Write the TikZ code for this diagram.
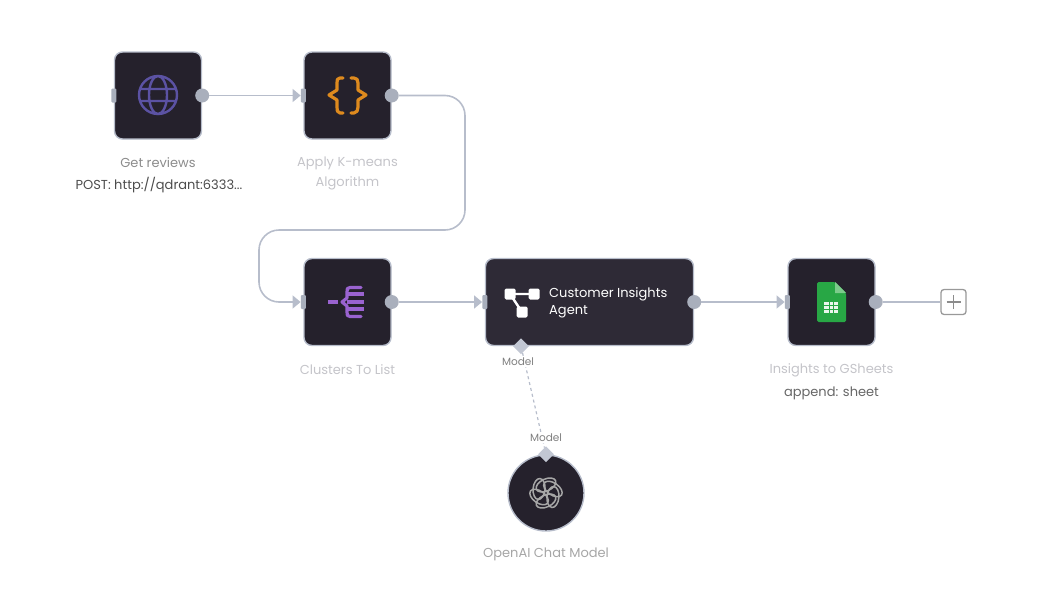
\documentclass[tikz,border=0pt]{standalone}
\usepackage{fontspec}
\setmainfont{Poppins}
\usetikzlibrary{arrows.meta,shapes.geometric}
\definecolor{boxdark}{HTML}{25212C}
\definecolor{boxagent}{HTML}{2E2A36}
\definecolor{wire}{HTML}{B7BDCB}
\definecolor{portgrey}{HTML}{A9AFBC}
\definecolor{fainttext}{HTML}{C4C4C9}
\definecolor{globeblue}{HTML}{5B52A3}
\definecolor{braceorange}{HTML}{DE8A1E}
\definecolor{listpurple}{HTML}{9A63D0}
\definecolor{sheetgreen}{HTML}{28A745}
\definecolor{sheetfold}{HTML}{7CCB8B}
\tikzset{
    nodebox/.style={draw=wire, line width=1.4pt, fill=boxdark, rounded corners=8pt, inner sep=0pt, minimum width=87pt, minimum height=87pt},
    outport/.style={circle, fill=portgrey, inner sep=0pt, minimum size=14pt},
    inport/.style={rectangle, rounded corners=1pt, fill=portgrey, inner sep=0pt, minimum width=5pt, minimum height=14pt},
    modelport/.style={diamond, fill=wire!85!white, inner sep=0pt, minimum size=16pt},
    wireline/.style={draw=wire, line width=1.6pt},
    arrowwire/.style={wireline, -{Triangle[length=8pt,width=13pt]}},
    nodelabel/.style={font=\fontsize{13}{17}\selectfont, align=center, inner sep=0pt},
    modellabel/.style={font=\fontsize{10.5}{12}\selectfont, text=black!50, fill=white, inner sep=1pt},
    iconline/.style={line width=3.2pt, line cap=round, line join=round}
}
\begin{document}
\begin{tikzpicture}[x=1pt, y=-1pt]
    \useasboundingbox (0,0) rectangle (1050,600);

    % boxes
    \node[nodebox] (getreviews) at (158,95.5) {};
    \node[nodebox] (kmeans) at (347.5,95.5) {};
    \node[nodebox] (clusters) at (347.5,302) {};
    \node[nodebox, fill=boxagent, minimum width=208pt] (agent) at (589.5,302) {};
    \node[nodebox] (sheets) at (831.5,302) {};
    \node[circle, draw=wire, line width=1.4pt, fill=boxdark, inner sep=0pt, minimum size=76pt] (openai) at (546,493) {};
    \node[draw=black!40, line width=1.3pt, rounded corners=3pt, fill=white, minimum size=25pt, inner sep=0pt] (plus) at (953.5,302) {};
    \draw[black!45, line width=1.6pt] (plus.center) +(-7,0) -- +(7,0) (plus.center) +(0,-7) -- +(0,7);

    % ports
    \foreach \n in {getreviews,kmeans,clusters,agent,sheets}
        {
            \node[inport] (\n-in) at (\n.west) {};
            \node[outport] (\n-out) at (\n.east) {};
        }
    \node[modelport] (agent-model) at (agent.south) [xshift=-68.5pt] {};
    \node[modelport] (openai-model) at (openai.north) {};
    \coordinate (bendA) at (465,230);
    \coordinate (bendB) at (259,230);

    % connectors
    \draw[arrowwire] (getreviews-out) -- (kmeans-in);
    \draw[arrowwire, rounded corners=20pt] (kmeans-out) -| (bendA) -- (bendB) |- (clusters-in);
    \draw[arrowwire] (clusters-out) -- (agent-in);
    \draw[arrowwire] (agent-out) -- (sheets-in);
    \draw[wireline] (sheets-out) -- (plus);
    \draw[wire, line width=1.2pt, dashed] (agent-model) -- (openai-model);

    % labels
    \node[modellabel] (agent-tag) at (518,362) {Model};
    \node[modellabel] (openai-tag) at (546,438) {Model};
    \node[nodelabel, text=black!45] (getreviews-name) at (158,163) {Get reviews};
    \node[nodelabel, text=black!70] (getreviews-sub) at (159,185) {POST: http://qdrant:6333...};
    \node[nodelabel, text=fainttext] (kmeans-name) at (347.5,173.5) {Apply K-means\\[3pt]Algorithm};
    \node[nodelabel, text=fainttext] (clusters-name) at (347.5,370) {Clusters To List};
    \node[nodelabel, text=fainttext] (sheets-name) at (831.5,370) {Insights to GSheets};
    \node[nodelabel, text=black!60] (sheets-sub) at (831.5,393) {append: sheet};
    \node[nodelabel, text=black!35] (openai-name) at (546,554) {OpenAI Chat Model};
    \node[nodelabel, text=white, anchor=west, align=left] (agent-name) at (549,303) {Customer Insights\\[0pt]Agent};

    % globe
    \draw[globeblue, line width=2.4pt] (158,95) circle (19) (158,95) ellipse (9 and 19)
        (141,89) -- (175,89) (141,101) -- (175,101);

    % braces
    \draw[iconline, braceorange] (343,78) -- (340,78) .. controls (337,78) and (337,80) .. (337,83) -- (337,90) -- (329,95) -- (337,100) -- (337,107) .. controls (337,110) and (337,113) .. (340,113) -- (343,113);
    \draw[iconline, braceorange] (351,78) -- (354,78) .. controls (357,78) and (358,80) .. (358,83) -- (358,90) -- (366,95) -- (358,100) -- (358,107) .. controls (358,110) and (357,113) .. (354,113) -- (351,113);

    % list icon
    \draw[iconline, listpurple, line cap=butt] (328,302) -- (338,302);
    \draw[iconline, listpurple] (361,287.5) -- (350,287.5) .. controls (347,287.5) and (347,289) .. (347,292) -- (347,298) -- (342,302) -- (347,306) -- (347,312) .. controls (347,315) and (347,316.5) .. (350,316.5) -- (361,316.5);
    \foreach \y in {294,302,309}
        \draw[iconline, listpurple, line cap=butt] (347,\y) -- (364,\y);

    % agent icon
    \foreach \x/\y in {510/294,534/294,522/312}
        \fill[white, rounded corners=1.5pt] (\x-5.5,\y-5.5) rectangle (\x+5.5,\y+5.5);
    \draw[white, line width=2.4pt] (510,294) -- (534,294) (510,294) -- (522,312);

    % sheets icon
    \fill[sheetgreen, rounded corners=1.5pt] (817,282) -- (835,282) -- (846,293) -- (846,322) -- (817,322) -- cycle;
    \fill[sheetfold] (835,282) -- (846,293) -- (835,293) -- cycle;
    \fill[white!90!sheetgreen] (824,302) rectangle (838,313);
    \draw[sheetgreen, line width=0.8pt] (824,305.7) -- (838,305.7) (824,309.3) -- (838,309.3) (829,302) -- (829,313) (833.5,302) -- (833.5,313);

    % openai knot
    \foreach \a in {0,60,...,300}
        \draw[black!35, line width=1.5pt, rotate around={\a:(546,493)}] (546,485) [rotate around={25:(546,485)}] ellipse (10.5 and 6);
\end{tikzpicture}
\end{document}
